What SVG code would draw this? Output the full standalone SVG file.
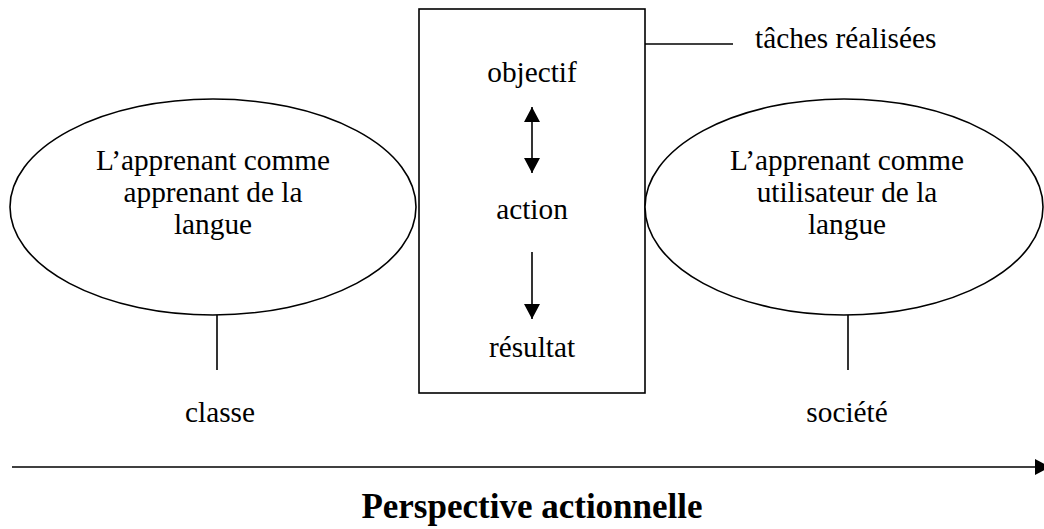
<svg xmlns="http://www.w3.org/2000/svg" width="1044" height="529" viewBox="0 0 1044 529">
  <defs>
    <style>
      .lbl { font-family: "Liberation Serif", "Times New Roman", serif; font-size: 29.3px; fill: #000; text-anchor: middle; }
      .title { font-family: "Liberation Serif", "Times New Roman", serif; font-size: 35px; font-weight: bold; fill: #000; text-anchor: middle; }
      .shape { fill: #fff; stroke: #000; stroke-width: 1.6; }
      .line { stroke: #000; stroke-width: 1.6; fill: none; }
    </style>
    <marker id="head" markerWidth="16" markerHeight="16" viewBox="0 0 16 16" refX="15" refY="8" orient="auto" markerUnits="userSpaceOnUse">
      <path d="M0,0 L15,8 L0,16 Z" fill="#000"/>
    </marker>
    <marker id="tail" markerWidth="16" markerHeight="16" viewBox="0 0 16 16" refX="1" refY="8" orient="auto" markerUnits="userSpaceOnUse">
      <path d="M16,0 L1,8 L16,16 Z" fill="#000"/>
    </marker>
  </defs>
  <rect width="1044" height="529" fill="#fff"/>

  <!-- learner in class -->
  <g id="node-apprenant">
    <ellipse class="shape" cx="213" cy="207" rx="203" ry="108"/>
    <text class="lbl" x="213" y="170">L’apprenant comme</text>
    <text class="lbl" x="213" y="202">apprenant de la</text>
    <text class="lbl" x="213" y="234">langue</text>
  </g>

  <!-- action box -->
  <g id="node-action">
    <rect class="shape" x="419" y="9" width="226" height="384" stroke-width="2"/>
    <text class="lbl" x="532" y="82">objectif</text>
    <text class="lbl" x="532" y="219">action</text>
    <text class="lbl" x="532" y="357">résultat</text>
  </g>

  <!-- learner in society -->
  <g id="node-utilisateur">
    <ellipse class="shape" cx="844" cy="207" rx="199" ry="108"/>
    <text class="lbl" x="847" y="170">L’apprenant comme</text>
    <text class="lbl" x="847" y="202">utilisateur de la</text>
    <text class="lbl" x="847" y="234">langue</text>
  </g>

  <g id="node-taches">
    <text class="lbl" x="755" y="48" text-anchor="start" style="text-anchor:start">tâches réalisées</text>
  </g>
  <g id="node-classe">
    <text class="lbl" x="220" y="422">classe</text>
  </g>
  <g id="node-societe">
    <text class="lbl" x="847" y="422">société</text>
  </g>
  <g id="node-perspective">
    <text class="title" x="532" y="518">Perspective actionnelle</text>
  </g>

  <!-- connectors -->
  <g id="connectors">
    <line class="line" x1="645" y1="44" x2="733" y2="44"/>
    <line class="line" x1="217" y1="315" x2="217" y2="370"/>
    <line class="line" x1="848" y1="315" x2="848" y2="370"/>
    <line class="line" x1="532" y1="107" x2="532" y2="173" marker-start="url(#tail)" marker-end="url(#head)"/>
    <line class="line" x1="532" y1="252" x2="532" y2="319" marker-end="url(#head)"/>
    <line class="line" x1="12" y1="467" x2="1050" y2="467" stroke-width="2.2" marker-end="url(#head)"/>
  </g>
</svg>
